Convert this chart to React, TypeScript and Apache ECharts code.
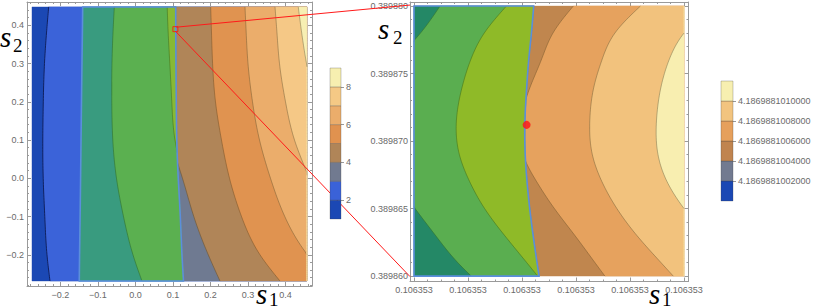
import React, { useEffect, useRef } from 'react';
import * as echarts from 'echarts';

// ---------- Left plot (overview) ----------
const L_S2 = [0.448, 0.38, 0.3, 0.2, 0.1, 0.0, -0.1, -0.2, -0.2685];
const L_DATA_X = [-0.276, 0.457];
const L_FRAME_X = [-0.2893, 0.4707];
const L_FRAME_Y = [-0.2816, 0.4609];
const L_TICKS = [-0.2, -0.1, 0, 0.1, 0.2, 0.3, 0.4];
// contour boundaries: s1 at each L_S2 level
const L_C1 = [-0.2315, -0.2373, -0.2427, -0.2459, -0.2472, -0.2461, -0.2419, -0.236, -0.228];
const L_QL = [-0.1408, -0.1416, -0.1427, -0.144, -0.1452, -0.1464, -0.1477, -0.1491, -0.1499];
const L_QR = [0.1072, 0.1075, 0.108, 0.1088, 0.1101, 0.1141, 0.1195, 0.124, 0.128];
const L_A = [-0.0565, -0.06, -0.0627, -0.0632, -0.0605, -0.0507, -0.032, -0.0067, 0.0173];
const L_B = [0.0845, 0.0872, 0.0915, 0.0968, 0.1053, 0.13, 0.16, 0.19, 0.21];
const L_H = [0.03, 0.03, 0.035, 0.04, 0.05, 0.07, 0.09, 0.11, 0.125];
const L_C = [0.07, 0.072, 0.075, 0.082, 0.095, 0.1253, 0.1555, 0.1941, 0.2253];
const L_D = [0.2005, 0.2027, 0.2056, 0.2133, 0.2293, 0.2507, 0.2827, 0.332, 0.3853];
const L_E = [0.292, 0.2952, 0.3, 0.312, 0.3307, 0.36, 0.3981, 0.4587, 0.52];
const L_F = [0.372, 0.3773, 0.384, 0.4, 0.424, 0.463, 0.5, 0.55, 0.6];
const L_G = [0.4341, 0.4432, 0.456, 0.48, 0.52, 0.56, 0.6, 0.64, 0.68];
const L_SQUARE = [0.106353, 0.38987];

// ---------- Right plot (zoom) ----------
const R_S2 = [0.38988, 0.389878, 0.389876, 0.389874, 0.3898715, 0.389869, 0.389867, 0.389865, 0.389863, 0.389861, 0.38986];
const R_DATA_X = [0, 5];
const R_FRAME_X = [-0.074, 5.083];
const R_FRAME_Y = [0.3898596, 0.3898803];
const R_X_TICKS = [0, 1, 2, 3, 4, 5];
const R_X_LABEL = '0.106353';
const R_Y_TICKS = [0.38986, 0.389865, 0.38987, 0.389875, 0.38988];
const R_QR = [2.217, 2.174, 2.124, 2.087, 2.054, 2.059, 2.093, 2.143, 2.206, 2.278, 2.315];
const R_A = [0.482, 0.12, -0.3, -0.55, -0.65, -0.55, -0.32, 0.02, 0.4, 0.81, 1.06];
const R_B = [1.711, 1.301, 1.048, 0.891, 0.785, 0.84, 1.03, 1.308, 1.679, 2.087, 2.29];
const R_C = [2.95, 2.573, 2.356, 2.15, 1.98, 2.02, 2.27, 2.6, 2.98, 3.35, 3.535];
const R_D = [4.193, 3.72, 3.479, 3.33, 3.255, 3.302, 3.479, 3.757, 4.128, 4.573, 4.801];
const R_E = [5.5, 5.0, 4.722, 4.573, 4.49, 4.518, 4.685, 5.0, 5.4, 5.8, 6.0];
const R_DOT = [2.085, 0.3898712];

// ---------- Legends ----------
const L_LEG_EDGES = [1, 2, 3, 4, 5, 6, 7, 8, 9];
const L_LEG_COLORS = ['#1b48b4', '#3a62d8', '#717a90', '#b08558', '#e0924f', '#ebad6b', '#f5c985', '#f7efb0'];
const L_LEG_TICKS = [2, 4, 6, 8];
const R_LEG_EDGES = [0, 1, 2, 3, 4, 5, 6];
const R_LEG_COLORS = ['#1b48b4', '#727a90', '#c0844f', '#e6a05c', '#f2c47f', '#f7efb0'];
const R_LEG_TICKS = [1, 2, 3, 4, 5];
const R_LEG_LABELS = ['4.1869881002000', '4.1869881004000', '4.1869881006000', '4.1869881008000', '4.1869881010000'];

const FRAME = '#9a9a9a';
const LABEL = '#6a6a6a';
const SANS = '"Liberation Sans", Arial, sans-serif';
const SERIF = '"Liberation Serif", "Times New Roman", serif';
const LINE = 'rgba(60,50,20,0.5)';

// natural cubic spline through (level, value) pairs, sampled densely for drawing
function densify(levels: number[], vals: number[], n = 12): number[][] {
  const m = levels.length;
  const l0 = levels[0], span = levels[m - 1] - levels[0];
  const x = levels.map((l) => (l - l0) / span);
  const y = vals;
  const h: number[] = [];
  for (let i = 0; i < m - 1; i++) h.push(x[i + 1] - x[i]);
  const M = new Array(m).fill(0);
  if (m > 2) {
    const a: number[] = [], b: number[] = [], c: number[] = [], d: number[] = [];
    for (let i = 1; i < m - 1; i++) {
      a.push(h[i - 1]);
      b.push(2 * (h[i - 1] + h[i]));
      c.push(h[i]);
      d.push(6 * ((y[i + 1] - y[i]) / h[i] - (y[i] - y[i - 1]) / h[i - 1]));
    }
    const k = b.length;
    for (let i = 1; i < k; i++) {
      const w = a[i] / b[i - 1];
      b[i] -= w * c[i - 1];
      d[i] -= w * d[i - 1];
    }
    const sol = new Array(k).fill(0);
    sol[k - 1] = d[k - 1] / b[k - 1];
    for (let i = k - 2; i >= 0; i--) sol[i] = (d[i] - c[i] * sol[i + 1]) / b[i];
    for (let i = 0; i < k; i++) M[i + 1] = sol[i];
  }
  const out: number[][] = [];
  for (let i = 0; i < m - 1; i++) {
    const hi = h[i];
    for (let s = 0; s < n; s++) {
      const xv = x[i] + (s / n) * hi;
      const A = x[i + 1] - xv, B = xv - x[i];
      const v = (M[i] * A * A * A) / (6 * hi) + (M[i + 1] * B * B * B) / (6 * hi) + (y[i] / hi - (M[i] * hi) / 6) * A + (y[i + 1] / hi - (M[i + 1] * hi) / 6) * B;
      out.push([v, l0 + xv * span]);
    }
  }
  out.push([y[m - 1], levels[m - 1]]);
  return out;
}

type Band = { lo?: number[]; left?: number[]; right?: number[]; color?: string; line?: string; lineWidth?: number; outline?: string };

function bandRenderer(bands: Band[], levels: number[], xmin: number, xmax: number) {
  const minArr = levels.map(() => xmin);
  const maxArr = levels.map(() => xmax);
  return (params: any, api: any) => {
    const b = bands[params.dataIndex];
    const lo = densify(levels, b.lo || minArr);
    const ri = densify(levels, b.right || maxArr);
    const le = densify(levels, b.left || minArr);
    if (b.outline) {
      const pts = lo.concat(ri.slice().reverse()).map((p) => api.coord(p));
      return { type: 'polygon', shape: { points: pts }, style: { fill: 'none', stroke: b.outline, lineWidth: 1.6 } };
    }
    const cl = le.map((p, i) => [Math.min(Math.max(p[0], lo[i][0]), ri[i][0]), p[1]]);
    const pts = cl.concat(ri.slice().reverse()).map((p) => api.coord(p));
    const children: any[] = [
      { type: 'polygon', shape: { points: pts }, style: { fill: b.color, stroke: b.color, lineWidth: 0.4 } },
    ];
    if (b.line) {
      let seg: number[][] = [];
      const flush = () => {
        if (seg.length > 1)
          children.push({ type: 'polyline', shape: { points: seg }, style: { fill: 'none', stroke: b.line, lineWidth: b.lineWidth || 0.7 } });
        seg = [];
      };
      for (let i = 0; i < le.length; i++) {
        const vis = le[i][0] > lo[i][0] && le[i][0] < ri[i][0];
        if (vis) {
          if (seg.length === 0 && i > 0) seg.push(api.coord(cl[i - 1]));
          seg.push(api.coord(le[i]));
        } else if (seg.length) {
          seg.push(api.coord(cl[i]));
          flush();
        }
      }
      flush();
    }
    return { type: 'group', children };
  };
}

function steps(min: number, max: number, step: number): number[] {
  const out: number[] = [];
  const start = Math.ceil(min / step - 1e-9);
  for (let k = start; k * step <= max + step * 1e-6; k++) out.push(+(k * step).toFixed(10));
  return out;
}

function addFrameAxes(list: any[], dim: 'x' | 'y', grid: number, range: number[], majors: number[], minors: number[], fmt: (v: number) => string, margin: number) {
  const base = { type: 'value', gridIndex: grid, min: range[0], max: range[1], splitLine: { show: false }, silent: true };
  const [pa, pb] = dim === 'x' ? ['bottom', 'top'] : ['left', 'right'];
  const line = { show: true, onZero: false, lineStyle: { color: FRAME, width: 1 } };
  const major = { show: true, inside: true, length: 4, customValues: majors, lineStyle: { color: FRAME } };
  const minor = { show: true, inside: true, length: 2, customValues: minors, lineStyle: { color: FRAME } };
  const idx = list.length;
  list.push({ ...base, position: pa, axisLine: line, axisTick: major, axisLabel: { show: true, customValues: majors, formatter: fmt, margin, color: LABEL, fontSize: 9, fontFamily: SANS } });
  list.push({ ...base, position: pb, axisLine: line, axisTick: major, axisLabel: { show: false } });
  list.push({ ...base, position: pa, axisLine: { show: false, onZero: false }, axisTick: minor, axisLabel: { show: false } });
  list.push({ ...base, position: pb, axisLine: { show: false, onZero: false }, axisTick: minor, axisLabel: { show: false } });
  return idx;
}

const fmtL = (v: number) => (v < -1e-9 ? '−' : '') + Math.abs(v).toFixed(1);

export default function App() {
  const ref = useRef<HTMLDivElement>(null);
  useEffect(() => {
    if (!ref.current) return;
    const chart = echarts.init(ref.current, undefined, { renderer: 'svg' });
    const xAxes: any[] = [];
    const yAxes: any[] = [];
    const lx = addFrameAxes(xAxes, 'x', 0, L_FRAME_X, L_TICKS, steps(L_FRAME_X[0], L_FRAME_X[1], 0.02), fmtL, 4);
    const ly = addFrameAxes(yAxes, 'y', 0, L_FRAME_Y, L_TICKS, steps(L_FRAME_Y[0], L_FRAME_Y[1], 0.02), fmtL, 3);
    const rx = addFrameAxes(xAxes, 'x', 1, R_FRAME_X, R_X_TICKS, steps(R_FRAME_X[0], R_FRAME_X[1], 0.25), () => R_X_LABEL, 4);
    const ry = addFrameAxes(yAxes, 'y', 1, R_FRAME_Y, R_Y_TICKS, steps(R_FRAME_Y[0], R_FRAME_Y[1], 0.000001), (v: number) => v.toFixed(6), 2);
    const legAxis = (grid: number, edges: number[], ticks: number[], fmt: (v: number) => string) => {
      const xi = xAxes.length;
      xAxes.push({ type: 'value', gridIndex: grid, min: 0, max: 1, show: false });
      const yi = yAxes.length;
      yAxes.push({
        type: 'value', gridIndex: grid, min: edges[0], max: edges[edges.length - 1], position: 'right',
        splitLine: { show: false }, axisLine: { show: false, onZero: false },
        axisTick: { show: true, inside: false, length: 3, customValues: ticks, lineStyle: { color: '#999' } },
        axisLabel: { show: true, customValues: ticks, formatter: fmt, margin: 5, color: LABEL, fontSize: 9, fontFamily: SANS },
      });
      return [xi, yi];
    };
    const [llx, lly] = legAxis(2, L_LEG_EDGES, L_LEG_TICKS, (v: number) => String(Math.round(v)));
    const [rlx, rly] = legAxis(3, R_LEG_EDGES, R_LEG_TICKS, (v: number) => R_LEG_LABELS[Math.round(v) - 1]);

    const leftBands: Band[] = [
      { color: '#1b48b4' },
      { left: L_C1, color: '#3b63d9', line: 'rgba(5,15,60,0.85)', lineWidth: 0.9 },
      { left: L_H, color: '#6f7a91' },
      { left: L_C, color: '#b08558', line: LINE },
      { left: L_D, color: '#e09350', line: LINE },
      { left: L_E, color: '#ebad6b', line: LINE },
      { left: L_F, color: '#f5c886', line: LINE },
      { left: L_G, color: '#f7efb3', line: LINE },
      { lo: L_QL, left: L_QL, right: L_QR, color: '#399b7f' },
      { lo: L_QL, left: L_A, right: L_QR, color: '#5bb050', line: 'rgba(20,70,20,0.5)' },
      { lo: L_QL, left: L_B, right: L_QR, color: '#87b935', line: 'rgba(20,70,20,0.5)' },
      { lo: L_QL, right: L_QR, outline: '#5b8edc' },
    ];
    const rightBands: Band[] = [
      { color: '#c0864e' },
      { left: R_C, color: '#e6a25e', line: LINE },
      { left: R_D, color: '#f2c27d', line: LINE },
      { left: R_E, color: '#f8eeb0', line: LINE },
      { right: R_QR, color: '#248866' },
      { left: R_A, right: R_QR, color: '#5aae50', line: 'rgba(20,70,20,0.5)' },
      { left: R_B, right: R_QR, color: '#8fba28', line: 'rgba(20,70,20,0.5)' },
      { right: R_QR, outline: '#5b8edc' },
    ];
    const legRenderer = (edges: number[], colors: string[]) => (params: any, api: any) => {
      const i = params.dataIndex;
      const p0 = api.coord([0, edges[i]]);
      const p1 = api.coord([1, edges[i + 1]]);
      return {
        type: 'rect',
        shape: { x: p0[0], y: p1[1], width: p1[0] - p0[0], height: p0[1] - p1[1] },
        style: { fill: colors[i], stroke: 'rgba(60,60,60,0.45)', lineWidth: 0.6 },
      };
    };

    const option: any = {
      animation: false,
      grid: [
        { left: 27, top: 2, width: 285, height: 284, outerBoundsMode: 'none' },
        { left: 410, top: 2, width: 278.5, height: 279.5, outerBoundsMode: 'none' },
        { left: 330, top: 68, width: 11, height: 151, outerBoundsMode: 'none' },
        { left: 721, top: 81, width: 12, height: 120, outerBoundsMode: 'none' },
      ],
      xAxis: xAxes,
      yAxis: yAxes,
      series: [
        {
          type: 'custom', coordinateSystem: 'cartesian2d', xAxisIndex: lx, yAxisIndex: ly, z: 2,
          renderItem: bandRenderer(leftBands, L_S2, L_DATA_X[0], L_DATA_X[1]),
          data: leftBands.map(() => [L_DATA_X[0], L_S2[0]]),
        },
        {
          type: 'custom', coordinateSystem: 'cartesian2d', xAxisIndex: rx, yAxisIndex: ry, z: 2,
          renderItem: bandRenderer(rightBands, R_S2, R_DATA_X[0], R_DATA_X[1]),
          data: rightBands.map(() => [R_DATA_X[0], R_S2[0]]),
        },
        {
          type: 'scatter', xAxisIndex: lx, yAxisIndex: ly, z: 4, symbol: 'rect', symbolSize: 5,
          itemStyle: { color: 'rgba(0,0,0,0)', borderColor: '#ff1010', borderWidth: 1 }, data: [L_SQUARE],
        },
        {
          type: 'scatter', xAxisIndex: rx, yAxisIndex: ry, z: 4, symbol: 'circle', symbolSize: 8,
          itemStyle: { color: '#ff1414' }, data: [R_DOT],
        },
        {
          type: 'custom', coordinateSystem: 'cartesian2d', xAxisIndex: llx, yAxisIndex: lly, z: 10,
          renderItem: legRenderer(L_LEG_EDGES, L_LEG_COLORS),
          data: L_LEG_COLORS.map((_, i) => [0.5, (L_LEG_EDGES[i] + L_LEG_EDGES[i + 1]) / 2]),
        },
        {
          type: 'custom', coordinateSystem: 'cartesian2d', xAxisIndex: rlx, yAxisIndex: rly, z: 10,
          renderItem: legRenderer(R_LEG_EDGES, R_LEG_COLORS),
          data: R_LEG_COLORS.map((_, i) => [0.5, (R_LEG_EDGES[i] + R_LEG_EDGES[i + 1]) / 2]),
        },
      ],
    };
    chart.setOption(option);

    const sq = chart.convertToPixel({ xAxisIndex: lx, yAxisIndex: ly } as any, L_SQUARE) as number[];
    const tl = chart.convertToPixel({ xAxisIndex: rx, yAxisIndex: ry } as any, [R_FRAME_X[0], R_S2[0]]) as number[];
    const bl = chart.convertToPixel({ xAxisIndex: rx, yAxisIndex: ry } as any, [R_FRAME_X[0], R_S2[R_S2.length - 1]]) as number[];
    const txt = (id: string, x: number, y: number, text: string, font: string, lh: number) => ({
      type: 'text', id, x, y, z: 20,
      style: { text, font, fill: '#000', lineHeight: lh, align: 'left', verticalAlign: 'middle', textAlign: 'left', textVerticalAlign: 'middle' },
    });
    const sFont = `italic 29px ${SERIF}`;
    const dFont = `19px ${SERIF}`;
    chart.setOption({
      graphic: [
        { type: 'line', id: 'l1', z: 5, shape: { x1: sq[0] + 1, y1: sq[1] - 2, x2: tl[0], y2: tl[1] - 1 }, style: { stroke: '#ff1a1a', lineWidth: 1 } },
        { type: 'line', id: 'l2', z: 5, shape: { x1: sq[0], y1: sq[1] + 2, x2: bl[0], y2: bl[1] + 0.5 }, style: { stroke: '#ff1a1a', lineWidth: 1 } },
        txt('a1', 0, 37.2, 's', sFont, 14), txt('a2', 13, 45.6, '2', dFont, 8),
        txt('b1', 256, 293.5, 's', sFont, 14), txt('b2', 269, 299, '1', dFont, 8),
        txt('c1', 378, 29.2, 's', sFont, 14), txt('c2', 393, 37.6, '2', dFont, 8),
        txt('d1', 649, 293.5, 's', sFont, 14), txt('d2', 662, 299, '1', dFont, 8),
      ],
    });
    return () => chart.dispose();
  }, []);
  return <div ref={ref} style={{ position: 'fixed', left: 0, top: 0, width: 817, height: 308, background: '#fff' }} />;
}
